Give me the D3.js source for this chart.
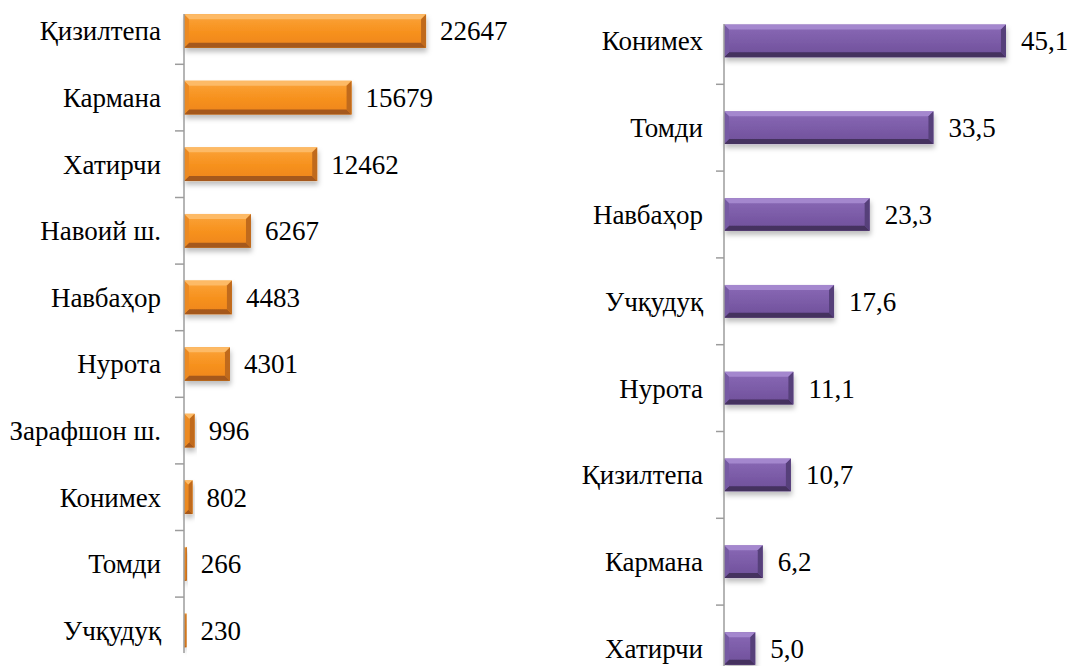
<!DOCTYPE html>
<html>
<head>
<meta charset="utf-8">
<script src="https://cdn.jsdelivr.net/npm/d3@7/dist/d3.min.js"></script>
<style>
  html, body { margin: 0; padding: 0; background: #ffffff; }
  svg { display: block; }
  svg text { font-family: "Liberation Serif", serif; }
</style>
</head>
<body>
<svg id="chart" width="1072" height="666"></svg>
<script>
// ---- data ----
const leftCategories = ["Қизилтепа", "Кармана", "Хатирчи", "Навоий ш.", "Навбаҳор", "Нурота", "Зарафшон ш.", "Конимех", "Томди", "Учқудуқ"];
const leftValues = [22647, 15679, 12462, 6267, 4483, 4301, 996, 802, 266, 230];
const leftLabels = ["22647", "15679", "12462", "6267", "4483", "4301", "996", "802", "266", "230"];

const rightCategories = ["Конимех", "Томди", "Навбаҳор", "Учқудуқ", "Нурота", "Қизилтепа", "Кармана", "Хатирчи"];
const rightValues = [45.1, 33.5, 23.3, 17.6, 11.1, 10.7, 6.2, 5.0];
const rightLabels = ["45,1", "33,5", "23,3", "17,6", "11,1", "10,7", "6,2", "5,0"];

const FONT = "Liberation Serif";
const FONT_SIZE = 27;

const svg = d3.select("#chart");
const defs = svg.append("defs");

const shadow = defs.append("filter").attr("id", "shadow")
  .attr("x", "-20%").attr("y", "-30%").attr("width", "140%").attr("height", "180%");
shadow.append("feDropShadow").attr("dx", 1).attr("dy", 4).attr("stdDeviation", 2.5)
  .attr("flood-color", "#000").attr("flood-opacity", 0.25);

const themes = {
  orange: { top: "#FBA43A", mid: "#F7921F", bot: "#EE841A",
            bevTop: "#FDBA66", bevBot: "#A5581A", bevRight: "#C06B1E", bevLeft: "#EC8A24" },
  purple: { top: "#8A6AB6", mid: "#7C5CA8", bot: "#6E4F99",
            bevTop: "#A487CE", bevBot: "#45305F", bevRight: "#563F7A", bevLeft: "#765AA3" }
};
Object.entries(themes).forEach(([k, t]) => {
  const g = defs.append("linearGradient").attr("id", "grad-" + k)
    .attr("x1", 0).attr("y1", 0).attr("x2", 0).attr("y2", 1);
  g.append("stop").attr("offset", "0%").attr("stop-color", t.top);
  g.append("stop").attr("offset", "50%").attr("stop-color", t.mid);
  g.append("stop").attr("offset", "100%").attr("stop-color", t.bot);
});

function drawPanel(opts) {
  const { cats, vals, labels, xDomain, xRange, yRange, padding, theme, themeKey,
          axisTop, axisBottom, tickLen, labelGap, valueGap } = opts;
  const x = d3.scaleLinear().domain(xDomain).range(xRange);
  const y = d3.scaleBand().domain(cats).range(yRange).paddingInner(padding).paddingOuter(padding / 2);
  const g = svg.append("g");
  const x0 = x(0);

  cats.forEach((c, i) => {
    const bx0 = x0, bx1 = x(vals[i]);
    const by0 = y(c), by1 = y(c) + y.bandwidth();
    const b = Math.min(5, (bx1 - bx0) / 2, (by1 - by0) / 2);
    const bar = g.append("g").attr("filter", "url(#shadow)");
    bar.append("rect").attr("x", bx0).attr("y", by0)
      .attr("width", bx1 - bx0).attr("height", by1 - by0)
      .attr("fill", "url(#grad-" + themeKey + ")");
    const poly = (pts, fill) => bar.append("polygon")
      .attr("points", pts.map(p => p.join(",")).join(" ")).attr("fill", fill);
    poly([[bx0, by0], [bx1, by0], [bx1 - b, by0 + b], [bx0 + b, by0 + b]], theme.bevTop);
    poly([[bx0, by1], [bx1, by1], [bx1 - b, by1 - b], [bx0 + b, by1 - b]], theme.bevBot);
    poly([[bx1, by0], [bx1, by1], [bx1 - b, by1 - b], [bx1 - b, by0 + b]], theme.bevRight);
    poly([[bx0, by0], [bx0, by1], [bx0 + b, by1 - b], [bx0 + b, by0 + b]], theme.bevLeft);

    g.append("text")
      .attr("x", bx1 + valueGap).attr("y", by0 + y.bandwidth() / 2)
      .attr("dy", "0.35em").attr("font-size", FONT_SIZE).attr("font-family", FONT)
      .attr("fill", "#000")
      .text(labels[i]);
    g.append("text")
      .attr("x", x0 - labelGap).attr("y", by0 + y.bandwidth() / 2)
      .attr("dy", "0.35em").attr("text-anchor", "end").attr("font-size", FONT_SIZE)
      .attr("font-family", FONT).attr("fill", "#000")
      .text(c);
  });

  g.append("line").attr("x1", x0).attr("x2", x0)
    .attr("y1", axisTop).attr("y2", axisBottom)
    .attr("stroke", "#9c9c9c").attr("stroke-width", 1.5);
  cats.slice(0, -1).forEach(c => {
    const ty = y(c) + y.bandwidth() / 2 + y.step() / 2;
    g.append("line").attr("x1", x0 - tickLen).attr("x2", x0)
      .attr("y1", ty).attr("y2", ty)
      .attr("stroke", "#9c9c9c").attr("stroke-width", 1.5);
  });
}

drawPanel({
  cats: leftCategories, vals: leftValues, labels: leftLabels,
  xDomain: [0, 25000], xRange: [184, 451.2], yRange: [-2.3, 663.7], padding: 0.494,
  theme: themes.orange, themeKey: "orange",
  axisTop: 14, axisBottom: 653, tickLen: 9, labelGap: 23, valueGap: 14
});

drawPanel({
  cats: rightCategories, vals: rightValues, labels: rightLabels,
  xDomain: [0, 50], xRange: [724, 1036.6], yRange: [-2.5, 691.9], padding: 0.623,
  theme: themes.purple, themeKey: "purple",
  axisTop: 24, axisBottom: 666, tickLen: 8, labelGap: 21, valueGap: 15
});
</script>
</body>
</html>
